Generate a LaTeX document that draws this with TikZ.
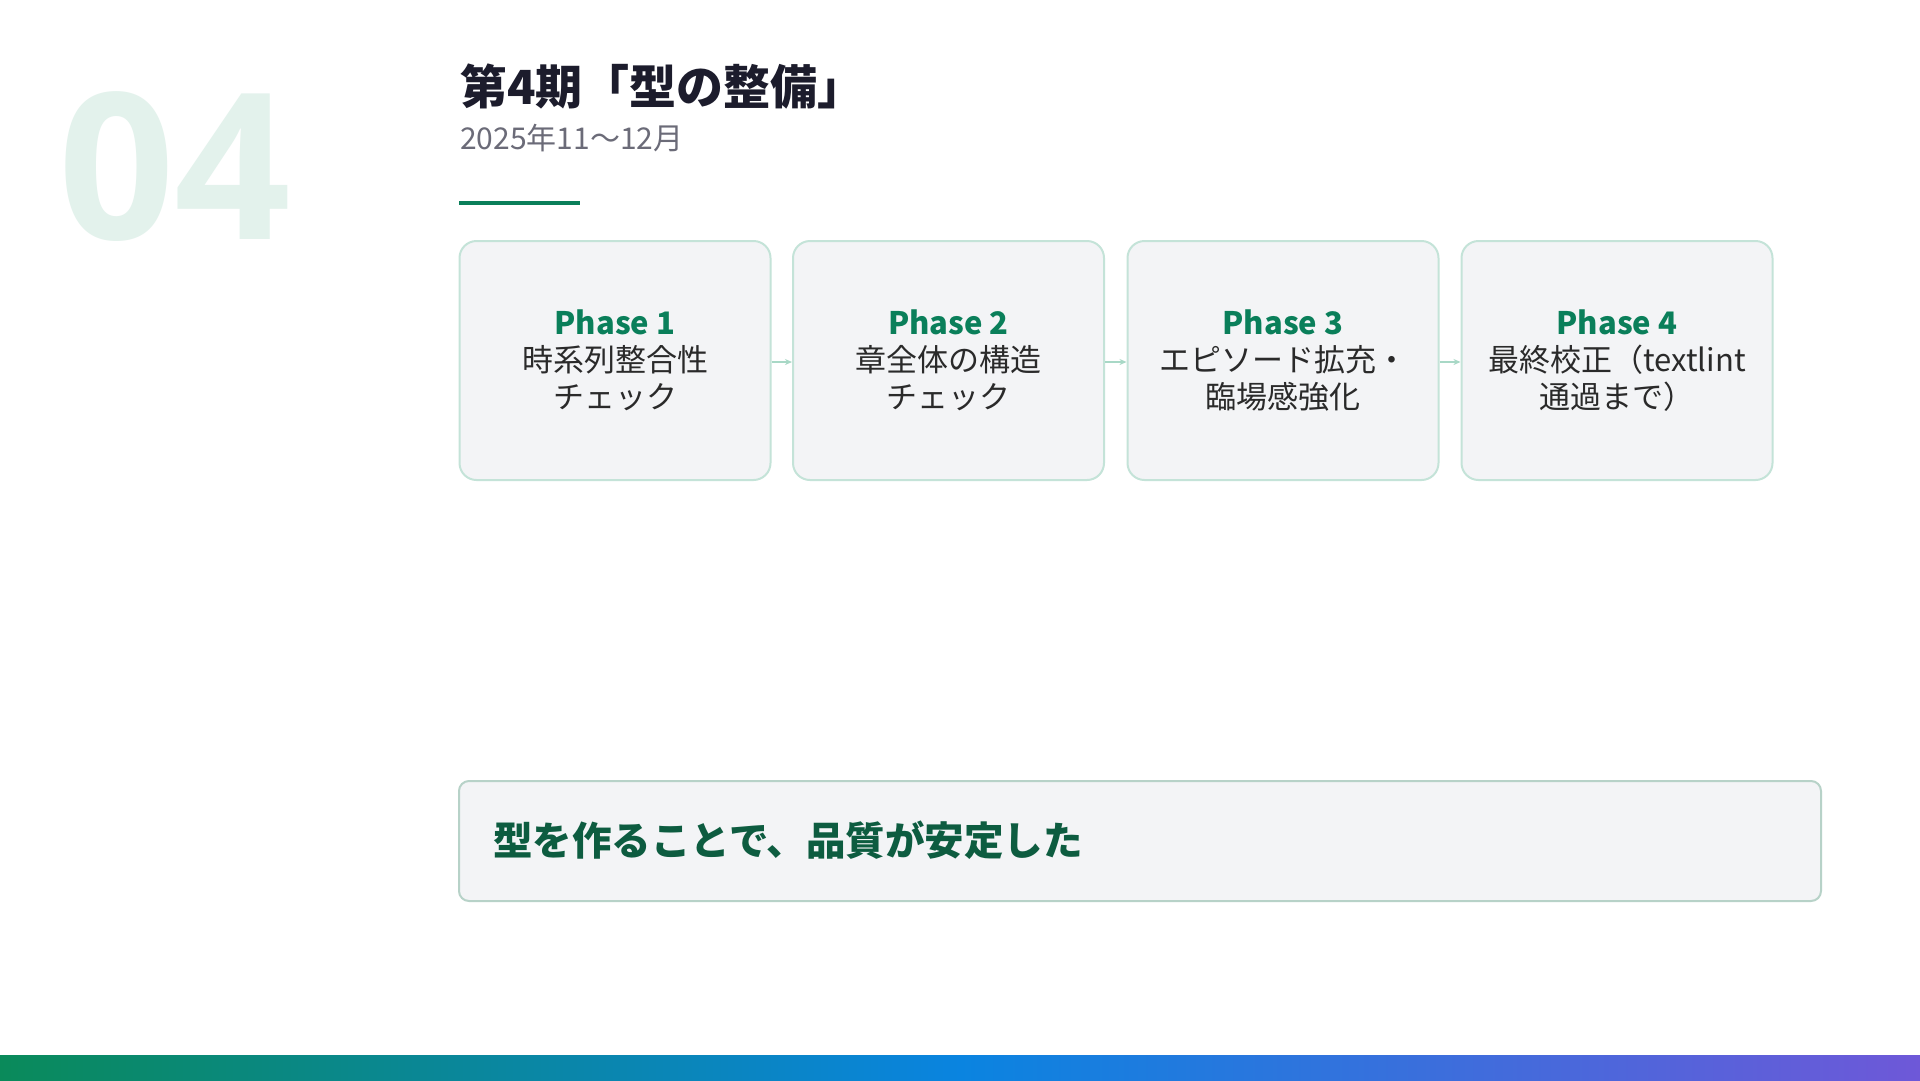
\documentclass[tikz,border=0pt]{standalone}
\usepackage{fontspec}
\setmainfont{Noto Sans CJK JP}
\newfontfamily\latinbold{Open Sans}
\usetikzlibrary{arrows.meta}
\definecolor{numcol}{HTML}{E3F2EC}
\definecolor{titlecol}{HTML}{1C1C2C}
\definecolor{subcol}{HTML}{6B6B78}
\definecolor{accent}{HTML}{0A7F5A}
\definecolor{boxfill}{HTML}{F3F4F6}
\definecolor{boxline}{HTML}{C4E3D8}
\definecolor{arrowcol}{HTML}{A8D8C6}
\definecolor{bodycol}{HTML}{2A2A2A}
\definecolor{notecol}{HTML}{0D5C40}
\definecolor{noteline}{HTML}{B7D2C8}
\definecolor{gA}{HTML}{0A8A5A}
\definecolor{gB}{HTML}{0A84E0}
\definecolor{gC}{HTML}{6E58D8}
\pgfdeclarehorizontalshading{barshade}{100bp}{color(0bp)=(gA); color(25bp)=(gA); color(50bp)=(gB); color(75bp)=(gC); color(100bp)=(gC)}
\tikzset{
  phasebox/.style={draw=boxline, line width=2pt, fill=boxfill, rounded corners=17pt,
    minimum width=311pt, minimum height=239pt, align=center, inner sep=0pt,
    text=bodycol, font=\fontsize{31}{37}\selectfont},
  flowarrow/.style={draw=arrowcol, line width=1.5pt, -{Stealth[length=7pt,width=6pt]}}
}
\newcommand{\phz}[1]{{\bfseries\color{accent}Phase #1}}
\begin{document}
\begin{tikzpicture}[x=1pt,y=-1pt]
\useasboundingbox (0,0) rectangle (1920,1080);
\fill[white] (0,0) rectangle (1920,1080);
% big number
\node[anchor=base west, inner sep=0pt, text=numcol, font=\latinbold\bfseries\fontsize{204}{204}\selectfont] (num) at (58,239) {04};
% title
\node[anchor=base west, inner sep=0pt, text=titlecol, font=\bfseries\fontsize{47}{47}\selectfont] (title) at (460,104) {第4期「型の整備」};
\node[anchor=base west, inner sep=0pt, text=subcol, font=\fontsize{30}{30}\selectfont] (sub) at (460,149) {2025年11〜12月};
\fill[accent] (459,201) rectangle (580,205);
% phases
\node[phasebox] (p1) at (615,360.5) {\phz{1}\\時系列整合性\\チェック};
\node[phasebox] (p2) at (948.5,360.5) {\phz{2}\\章全体の構造\\チェック};
\node[phasebox] (p3) at (1283,360.5) {\phz{3}\\エピソード拡充・\\臨場感強化};
\node[phasebox] (p4) at (1617,360.5) {\phz{4}\\最終校正（textlint\\通過まで）};
\draw[flowarrow] (p1.east |- 0,362) -- (p2.west |- 0,362);
\draw[flowarrow] (p2.east |- 0,362) -- (p3.west |- 0,362);
\draw[flowarrow] (p3.east |- 0,362) -- (p4.west |- 0,362);
% note box
\node[draw=noteline, line width=2pt, fill=boxfill, rounded corners=10pt, minimum width=1362pt, minimum height=120pt, inner sep=0pt] (note) at (1140,841) {};
\node[anchor=west, inner sep=0pt, text=notecol, font=\bfseries\fontsize{39.5}{39.5}\selectfont] (notetext) at (493,840) {型を作ることで、品質が安定した};
% gradient bar
\shade[shading=barshade] (0,1055) rectangle (1920,1080);
\end{tikzpicture}
\end{document}
